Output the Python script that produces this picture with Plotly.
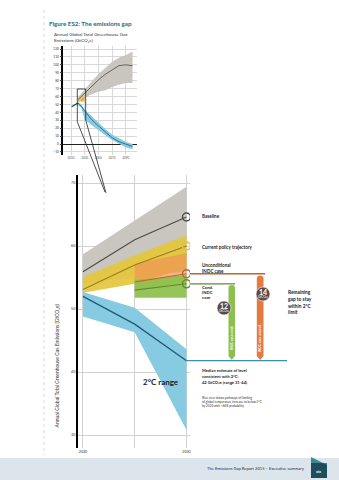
import plotly.graph_objects as go

W, H = 339, 480
def px(x): return x / W
def py(y): return 1 - y / H

# ---------------- data: main chart (2020-2030) ----------------
years_main = [2020, 2025, 2030]
baseline = [55.9, 61.0, 64.6]
baseline_hi = [58.7, 64.1, 69.4]
baseline_lo = [54.0, 55.0, 56.0]
policy = [53.1, 57.0, 60.0]
policy_hi = [55.1, 58.5, 61.7]
policy_lo = [52.6, 54.0, 56.5]
years_indc = [2025, 2030]
uncond = [54.3, 55.6]
uncond_hi = [57.2, 58.9]
uncond_lo = [53.0, 54.0]
cond = [53.0, 54.0]
cond_hi = [54.6, 55.4]
cond_lo = [51.8, 51.8]
two_deg = [52.0, 47.6, 41.8]
two_deg_hi = [52.7, 50.2, 43.6]
two_deg_lo = [48.8, 46.3, 30.8]
green_patch_x = [2020, 2020, 2021]
green_patch_y = [51.6, 53.4, 52.5]
pink_patch_x = [2027.5, 2030, 2030]
pink_patch_y = [57.6, 58.6, 56.9]
main_yticks = [30, 40, 50, 60, 70]
main_xticks = [2020, 2030]
main_xlabels = ["2020", "2030"]
main_xminor = [2025]

# ---------------- data: inset (long term) ----------------
inset_years = [2020, 2030, 2040, 2050, 2060, 2070, 2080, 2090, 2100]
inset_base = [55.9, 64.6, 73, 81, 88, 94, 99, 100, 99]
inset_base_hi = [58.7, 69.4, 79, 88, 96, 104, 109, 112, 117]
inset_base_lo = [54.0, 58.5, 63, 66, 68, 72, 75, 77, 77]
inset_2c_years = [2020, 2025, 2030, 2040, 2050, 2060, 2070, 2080, 2090, 2100]
inset_2c = [52.0, 47.6, 41.8, 31, 23, 15, 8, 3, 0, -3]
inset_2c_hi = [52.7, 50.2, 43.6, 35, 27, 19, 12, 7, 3, 0]
inset_2c_lo = [48.8, 46.3, 30.8, 25, 18, 11, 5, 0, -4, -7]
hist_years = [2011, 2014, 2017, 2020]
hist = [47.0, 48.5, 50.5, 52.0]
inset_yticks = list(range(-10, 121, 10))
inset_xticks = [2010, 2030, 2050, 2070, 2090]

GRAY = "#c8c6bf"; GRAY_L = "#4b4b48"
YEL = "rgba(228,197,60,0.92)"; YEL_L = "#9c7e1c"; YEL_C = "#e3c03a"
ORA = "rgba(240,150,85,0.72)"; ORA_L = "#c4622a"
GRE = "rgba(140,192,75,0.92)"; GRE_L = "#5d8e36"
BLU = "#86cbe2"; BLU_L = "#1f5a78"; BLU_X = "#3a8db5"
FONT = "Lato"
CO2 = "GtCO₂e"

fig = go.Figure()

def band(x, lo, hi, color, xa="x", ya="y"):
    fig.add_trace(go.Scatter(x=list(x) + list(x)[::-1], y=list(hi) + list(lo)[::-1],
                             fill="toself", fillcolor=color, line=dict(width=0),
                             mode="lines", hoverinfo="skip", showlegend=False,
                             xaxis=xa, yaxis=ya))

def line(x, y, color, w=1.1, xa="x", ya="y"):
    fig.add_trace(go.Scatter(x=x, y=y, mode="lines", line=dict(color=color, width=w),
                             hoverinfo="skip", showlegend=False, xaxis=xa, yaxis=ya))

# ---- main chart ----
band(years_main, baseline_lo, baseline_hi, GRAY)
band(years_main, policy_lo, policy_hi, YEL)
band(years_indc, uncond_lo, uncond_hi, ORA)
band(pink_patch_x, pink_patch_y, pink_patch_y, "rgba(244,180,170,0.9)")
band(years_indc, cond_lo, cond_hi, GRE)
band(green_patch_x, green_patch_y, green_patch_y, GRE)
band(years_main, two_deg_lo, two_deg_hi, BLU)
line(years_main, baseline, GRAY_L)
line(years_main, policy, YEL_L)
line(years_indc, uncond, ORA_L)
line(years_indc, cond, GRE_L)
line(years_main, two_deg, BLU_L, 1.3)
for val, col in [(baseline[-1], GRAY_L), (policy[-1], YEL_C), (uncond[-1], ORA_L), (cond[-1], GRE_L)]:
    fig.add_trace(go.Scatter(x=[years_main[-1]], y=[val], mode="markers",
                             marker=dict(symbol="circle-open", size=8, color=col, line=dict(width=1.4, color=col)),
                             hoverinfo="skip", showlegend=False, xaxis="x", yaxis="y"))

# ---- inset ----
band(inset_years, inset_base_lo, inset_base_hi, GRAY, "x2", "y2")
band(years_main, policy_lo, policy_hi, YEL, "x2", "y2")
band(years_indc, uncond_lo, uncond_hi, ORA, "x2", "y2")
band(inset_2c_years, inset_2c_lo, inset_2c_hi, BLU, "x2", "y2")
line(inset_years, inset_base, GRAY_L, 0.8, "x2", "y2")
line(inset_2c_years, inset_2c, BLU_L, 0.8, "x2", "y2")
line(hist_years, hist, "#1d3f55", 1.2, "x2", "y2")

fig.update_layout(
    width=W, height=H, margin=dict(l=0, r=0, t=0, b=0),
    paper_bgcolor="white", plot_bgcolor="rgba(0,0,0,0)",
    font=dict(family=FONT, color="#222"),
    xaxis=dict(domain=[px(78), px(190)], range=[2019.52, 2030.34], tickvals=main_xticks,
               ticktext=main_xlabels, showgrid=True, gridcolor="#d2d2d2", gridwidth=0.8,
               minor=dict(tickvals=main_xminor, showgrid=True, gridcolor="#d2d2d2", gridwidth=0.8, ticks=""),
               zeroline=False, showline=False, ticks="", tickfont=dict(size=3.6, color="#333"),
               anchor="y", fixedrange=True),
    yaxis=dict(domain=[py(448), py(175)], range=[27.94, 71.27], tickvals=main_yticks,
               showgrid=True, gridcolor="#d2d2d2", gridwidth=0.8, zeroline=False,
               showline=True, linecolor="black", linewidth=2, ticks="",
               tickfont=dict(size=3.6, color="#333"), anchor="x", fixedrange=True),
    xaxis2=dict(domain=[px(63.3), px(137)], range=[1998.7, 2106.5], tickvals=inset_xticks,
                showgrid=True, gridcolor="#d8d8d8", gridwidth=0.7, zeroline=False,
                showline=False, ticks="", tickfont=dict(size=3.0, color="#555"), anchor="y2"),
    yaxis2=dict(domain=[py(155), py(46)], range=[-13.8, 123.8], tickvals=inset_yticks,
                showgrid=True, gridcolor="#d8d8d8", gridwidth=0.7, zeroline=True,
                zerolinecolor="#222", zerolinewidth=1.2, showline=True, linecolor="black",
                linewidth=1.5, ticks="outside", ticklen=2, tickwidth=0.6,
                tickfont=dict(size=3.2, color="#333"), anchor="x2"),
)

shapes = []
shapes.append(dict(type="rect", xref="paper", yref="paper", x0=0, x1=1, y0=py(480), y1=py(458),
                   fillcolor="#dde5ec", line=dict(width=0), layer="below"))
shapes.append(dict(type="line", xref="paper", yref="paper", x0=px(44), x1=px(44), y0=py(10), y1=py(455),
                   line=dict(color="#c4c4c4", width=0.6, dash="dot"), layer="below"))
def P(x, y): return f"{px(x):.5f},{py(y):.5f}"
shapes.append(dict(type="path", xref="paper", yref="paper",
                   path=f"M {P(77.3,121.7)} L {P(77.3,89)} L {P(85.7,89)} L {P(85.7,120)}",
                   line=dict(color="#222", width=0.8)))
shapes.append(dict(type="line", xref="paper", yref="paper", x0=px(77.3), y0=py(121.7), x1=px(105), y1=py(192),
                   line=dict(color="#222", width=0.8)))
shapes.append(dict(type="line", xref="paper", yref="paper", x0=px(85.7), y0=py(120), x1=px(106), y1=py(193),
                   line=dict(color="#222", width=0.8)))
shapes.append(dict(type="line", xref="paper", yref="y", x0=px(190), x1=px(265), y0=uncond[-1], y1=uncond[-1],
                   line=dict(color=ORA_L, width=1.3)))
shapes.append(dict(type="line", xref="paper", yref="y", x0=px(190), x1=px(235), y0=cond[-1], y1=cond[-1],
                   line=dict(color=GRE_L, width=1.3)))
shapes.append(dict(type="line", xref="paper", yref="y", x0=px(186.5), x1=px(287), y0=two_deg[-1], y1=two_deg[-1],
                   line=dict(color=BLU_X, width=1.3)))
def pill(xl, xr, top, bot, tip, color):
    xm = (xl + xr) / 2
    r = (xr - xl) / 2
    path = (f"M {P(xl,bot)} L {P(xl,top+r)} Q {P(xl,top)} {P(xm,top)} Q {P(xr,top)} {P(xr,top+r)} "
            f"L {P(xr,bot)} L {P(xm,tip)} Z")
    shapes.append(dict(type="path", xref="paper", yref="paper", path=path,
                       fillcolor=color, line=dict(width=0)))
pill(228.5, 235, 285, 356, 360, "#8cc04c")
pill(256.8, 263.5, 275.5, 356, 360, "#e47a40")
for cx, cy in [(224, 308), (263, 294)]:
    shapes.append(dict(type="circle", xref="paper", yref="paper", x0=px(cx-7), x1=px(cx+7),
                       y0=py(cy+7), y1=py(cy-7), fillcolor="#5b4c4a", line=dict(color="white", width=0.6)))
shapes.append(dict(type="rect", xref="paper", yref="paper", x0=px(311), x1=px(327), y0=py(478), y1=py(463),
                   fillcolor="#1e4d5c", line=dict(width=0)))
shapes.append(dict(type="path", xref="paper", yref="paper",
                   path=f"M {P(311,457)} L {P(327,465)} L {P(327,463)} L {P(311,463)} Z",
                   fillcolor="#3c8796", line=dict(width=0)))
fig.update_layout(shapes=shapes)

ann = []
def T(x, y, text, size, color="#222", bold=False, xanchor="left", angle=0, yanchor="middle"):
    if bold:
        text = f"<b>{text}</b>"
    ann.append(dict(x=px(x), y=py(y), xref="paper", yref="paper", text=text, showarrow=False,
                    xanchor=xanchor, yanchor=yanchor, textangle=angle,
                    font=dict(size=size, color=color, family=FONT)))

T(47, 23.5, "Figure ES2: The emissions gap", 6.2, "#1a6d8c", bold=True)
T(52, 34.3, "Annual Global Total Greenhouse Gas", 4.6, "#333")
T(52, 40.3, f"Emissions ({CO2})", 4.6, "#333")

T(200, 216, "Baseline", 4.6, bold=True)
T(200, 247.3, "Current policy trajectory", 4.6, bold=True)
T(200, 265, "Unconditional", 4.6, bold=True)
T(200, 270.5, "INDC case", 4.6, bold=True)
T(200, 287.5, "Cond.", 4.2, bold=True)
T(200, 292.6, "INDC", 4.2, bold=True)
T(200, 297.7, "case", 4.2, bold=True)
T(286, 292.3, "Remaining", 4.8, bold=True)
T(286, 299, "gap to stay", 4.8, bold=True)
T(286, 305.7, "within 2°C", 4.8, bold=True)
T(286, 312.3, "limit", 4.8, bold=True)

T(224, 305.5, "12", 7, "white", bold=True, xanchor="center")
T(224, 311.3, CO2, 3.0, "white", xanchor="center")
T(263, 291.5, "14", 7, "white", bold=True, xanchor="center")
T(263, 297.3, CO2, 3.0, "white", xanchor="center")
T(232, 338, "INDC case cond.", 3.3, "white", bold=True, xanchor="center", angle=-90)
T(260.2, 338, "INDC case uncond.", 3.3, "white", bold=True, xanchor="center", angle=-90)

T(160.5, 382, "2°C range", 8, "#1a1a1a", bold=True, xanchor="center")
T(200.5, 370, "Median estimate of level", 4.1, bold=True)
T(200.5, 376.3, "consistent with 2°C:", 4.1, bold=True)
T(200.5, 382.6, f"42 {CO2} (range 31-44)", 4.1, bold=True)
T(200.5, 397.5, "Blue area shows pathways of limiting", 3.1, "#333")
T(200.5, 401.9, "of global temperature increase to below 2°C", 3.1, "#333")
T(200.5, 406.3, "by 2100 with >66% probability", 3.1, "#333")

T(56.5, 366, f"Annual Global Total Greenhouse Gas Emissions ({CO2})", 5.0, "#333",
  xanchor="center", angle=-90)

T(256, 468, "The Emissions Gap Report 2015 – Executive summary", 4.1, "#1d2b4a", xanchor="center")
T(319, 471, "xix", 4, "white", bold=True, xanchor="center")

fig.update_layout(annotations=ann)
fig.write_html("out.html")
